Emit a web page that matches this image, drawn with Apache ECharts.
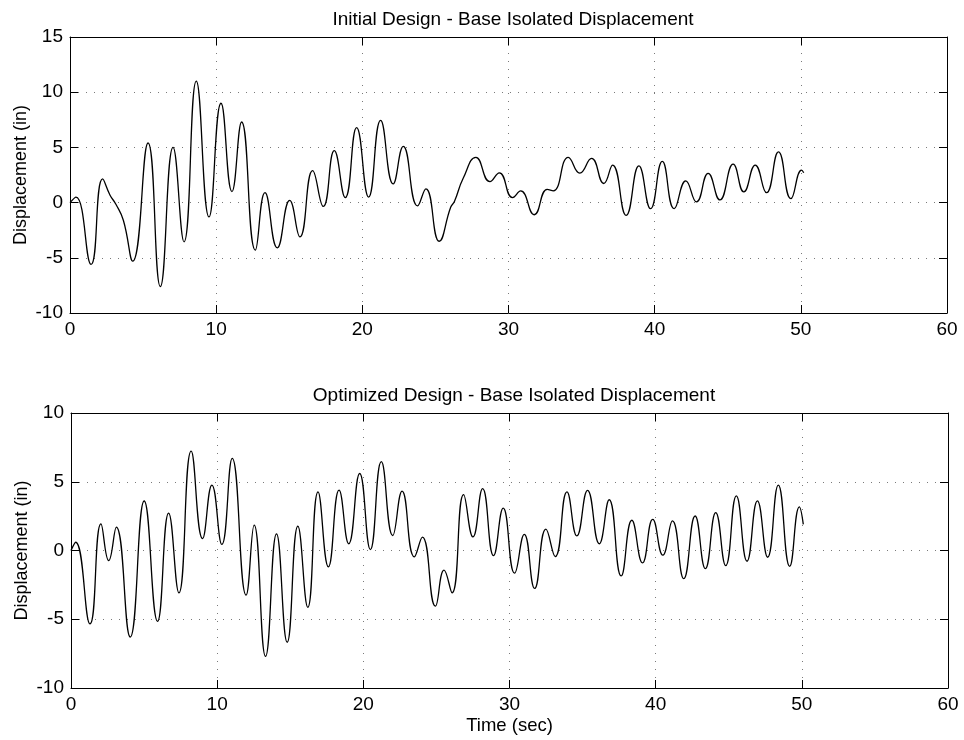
<!DOCTYPE html>
<html>
<head>
<meta charset="utf-8">
<title>Base Isolated Displacement</title>
<script src="https://cdn.jsdelivr.net/npm/echarts@6/dist/echarts.min.js"></script>
<style>
  html, body { margin: 0; padding: 0; background: #ffffff; }
  #chart { width: 964px; height: 740px; }
</style>
</head>
<body>
<div id="chart"></div>
<script>
// Time axis (sec)
const timeTicks = { min: 0, max: 60, interval: 10 };
// Displacement axes (in)
const initialRange = { min: -10, max: 15, interval: 5 };
const optimizedRange = { min: -10, max: 10, interval: 5 };

// Initial design: [time (sec), displacement (in)]
const initialDisplacement = [
  [0, 0], [0.41, 0.5], [1.44, -5.6], [2.23, 2.14], [2.74, 0.67], [3.14, -0.15],
  [3.65, -1.6], [4.29, -5.3], [5.34, 5.4], [6.18, -7.6], [7.05, 5.0], [7.8, -3.55],
  [8.64, 11.0], [9.51, -1.3], [10.33, 9.0], [11.08, 1.0], [11.74, 7.3], [12.68, -4.3],
  [13.34, 0.9], [14.18, -4.1], [15.03, 0.2], [15.73, -3.1], [16.6, 2.9], [17.33, -0.35],
  [18.08, 4.7], [18.83, 0.45], [19.61, 6.8], [20.43, 0.5], [21.25, 7.45], [22.11, 1.7],
  [22.8, 5.1], [23.78, -0.3], [24.35, 1.25], [25.26, -3.5], [26.05, -0.4], [26.3, 0.1],
  [26.9, 2.2], [27.77, 4.1], [28.73, 1.9], [29.37, 2.7], [30.28, 0.45], [30.83, 1.06],
  [31.76, -1.1], [32.65, 1.2], [33.06, 1.06], [34.09, 4.1], [34.88, 2.67], [35.68, 4.0],
  [36.52, 1.73], [37.12, 3.4], [38.05, -1.15], [38.92, 3.33], [39.72, -0.55], [40.52, 3.73],
  [41.34, -0.55], [42.13, 1.97], [42.86, 0.06], [43.66, 2.64], [44.46, 0.24], [45.37, 3.48],
  [46.1, 0.97], [46.88, 3.4], [47.65, 0.9], [48.47, 4.6], [49.32, 0.36], [50.05, 2.94],
  [50.2, 2.7]
];

// Optimized design: [time (sec), displacement (in)]
const optimizedDisplacement = [
  [0, 0], [0.32, 0.6], [1.3, -5.34], [2.05, 1.94], [2.58, -0.73], [3.1, 1.7],
  [4.05, -6.29], [5.01, 3.6], [5.92, -5.15], [6.68, 2.72], [7.38, -3.08], [8.22, 7.23],
  [9.0, 0.87], [9.64, 4.76], [10.32, 0.44], [11.03, 6.7], [11.98, -3.25], [12.53, 1.85],
  [13.31, -7.7], [14.06, 1.21], [14.79, -6.67], [15.52, 1.77], [16.2, -4.13], [16.9, 4.27],
  [17.61, -1.19], [18.34, 4.39], [19.0, 0.49], [19.75, 5.6], [20.48, 0.07], [21.23, 6.46],
  [22.01, 1.09], [22.65, 4.32], [23.49, -0.46], [24.04, 0.97], [24.93, -4.05], [25.52, -1.43],
  [26.07, -3.08], [26.86, 4.06], [27.5, 0.99], [28.16, 4.5], [28.91, -0.37], [29.57, 3.08],
  [30.35, -1.65], [31.01, 1.18], [31.72, -2.76], [32.49, 1.55], [33.13, -0.44], [33.93, 4.26],
  [34.61, 1.06], [35.34, 4.38], [36.14, 0.49], [36.82, 3.69], [37.64, -1.85], [38.37, 2.2],
  [39.1, -0.9], [39.8, 2.27], [40.49, -0.34], [41.15, 2.15], [41.92, -2.05], [42.7, 2.51],
  [43.4, -1.32], [44.11, 2.76], [44.79, -1.1], [45.52, 3.98], [46.25, -0.78], [46.96, 3.61],
  [47.66, -0.49], [48.39, 4.76], [49.17, -1.15], [49.83, 3.17], [50.1, 1.9]
];

const FONT = '"Liberation Sans", Arial, Helvetica, sans-serif';
const INK = '#000000';

const gridLine = { show: true, lineStyle: { color: '#7a7a7a', width: 1, type: [1, 7] } };

function xAxisPair(gridIndex, name) {
  return [
    {
      gridIndex, type: 'value', position: 'bottom',
      min: timeTicks.min, max: timeTicks.max, interval: timeTicks.interval,
      name: name || '', nameLocation: 'middle', nameGap: 28, nameMoveOverlap: false,
      nameTextStyle: { color: INK, fontFamily: FONT, fontSize: 18.5 },
      axisLine: { show: true, onZero: false, lineStyle: { color: INK, width: 1 } },
      axisTick: { show: true, inside: true, length: 8, lineStyle: { color: INK } },
      axisLabel: { color: INK, fontFamily: FONT, fontSize: 19, margin: 7 },
      splitLine: gridLine
    },
    {
      gridIndex, type: 'value', position: 'top',
      min: timeTicks.min, max: timeTicks.max, interval: timeTicks.interval,
      axisLine: { show: true, onZero: false, lineStyle: { color: INK, width: 1 } },
      axisTick: { show: true, inside: true, length: 8, lineStyle: { color: INK } },
      axisLabel: { show: false },
      splitLine: { show: false }
    }
  ];
}

function yAxisPair(gridIndex, range) {
  return [
    {
      gridIndex, type: 'value', position: 'left',
      min: range.min, max: range.max, interval: range.interval,
      name: 'Displacement (in)', nameLocation: 'middle', nameGap: 40, nameRotate: 90,
      nameMoveOverlap: false,
      nameTextStyle: { color: INK, fontFamily: FONT, fontSize: 18 },
      axisLine: { show: true, onZero: false, lineStyle: { color: INK, width: 1 } },
      axisTick: { show: true, inside: true, length: 8, lineStyle: { color: INK } },
      axisLabel: { color: INK, fontFamily: FONT, fontSize: 19, margin: 7 },
      splitLine: gridLine
    },
    {
      gridIndex, type: 'value', position: 'right',
      min: range.min, max: range.max, interval: range.interval,
      axisLine: { show: true, onZero: false, lineStyle: { color: INK, width: 1 } },
      axisTick: { show: true, inside: true, length: 8, lineStyle: { color: INK } },
      axisLabel: { show: false },
      splitLine: { show: false }
    }
  ];
}

const chart = echarts.init(document.getElementById('chart'), null, { renderer: 'canvas' });

chart.setOption({
  backgroundColor: '#ffffff',
  animation: false,
  title: [
    {
      text: 'Initial Design - Base Isolated Displacement',
      left: 508, top: 5, textAlign: 'center',
      textStyle: { color: INK, fontFamily: FONT, fontSize: 19, fontWeight: 'normal' }
    },
    {
      text: 'Optimized Design - Base Isolated Displacement',
      left: 509, top: 381, textAlign: 'center',
      textStyle: { color: INK, fontFamily: FONT, fontSize: 19, fontWeight: 'normal' }
    }
  ],
  grid: [
    { left: 70, top: 37, width: 877, height: 276 },
    { left: 71, top: 413, width: 877, height: 275 }
  ],
  xAxis: [...xAxisPair(0), ...xAxisPair(1, 'Time (sec)')],
  yAxis: [...yAxisPair(0, initialRange), ...yAxisPair(1, optimizedRange)],
  series: [
    {
      name: 'Initial Design', type: 'line', xAxisIndex: 0, yAxisIndex: 0,
      data: initialDisplacement, smooth: true, showSymbol: false,
      lineStyle: { color: INK, width: 1.3 }
    },
    {
      name: 'Optimized Design', type: 'line', xAxisIndex: 2, yAxisIndex: 2,
      data: optimizedDisplacement, smooth: true, showSymbol: false,
      lineStyle: { color: INK, width: 1.3 }
    }
  ]
});
</script>
</body>
</html>
